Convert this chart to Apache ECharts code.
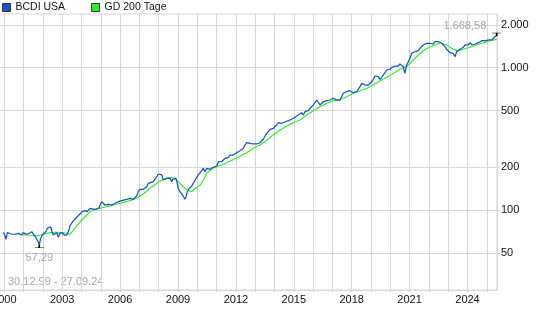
<!DOCTYPE html>
<html><head><meta charset="utf-8">
<script src="https://cdn.jsdelivr.net/npm/echarts@6/dist/echarts.min.js"></script>
<style>html,body{margin:0;padding:0;background:#fff}#c{width:537px;height:323px}</style>
</head><body><div id="c"></div>
<script>
const seriesNames = ['BCDI USA', 'GD 200 Tage'];
const dateRangeText = '30.12.99 - 27.09.24';
const yTickValues = [50, 100, 200, 500, 1000, 2000];
const xTickYears = [2000,2001,2002,2003,2004,2005,2006,2007,2008,2009,2010,2011,2012,2013,2014,2015,2016,2017,2018,2019,2020,2021,2022,2023,2024,2025];
const xLabelYears = [2000,2003,2006,2009,2012,2015,2018,2021,2024];

// [decimal year position, index value]
const bcdiData = [
[1999.95,69.7],[2000.02,67.1],[2000.09,62.6],[2000.16,69.7],[2000.26,70.8],[2000.35,68.2],[2000.55,67.9],[2000.73,69.0],[2000.81,70.8],[2000.90,67.1],[2000.98,69.7],[2001.07,70.5],[2001.16,67.9],[2001.30,69.0],[2001.42,70.8],[2001.50,68.2],[2001.59,66.0],[2001.68,62.6],[2001.76,60.2],[2001.81,57.29],[2001.89,63.6],[2001.97,67.1],[2002.06,69.0],[2002.15,70.8],[2002.23,74.8],[2002.33,76.7],[2002.40,76.7],[2002.46,71.6],[2002.54,67.1],[2002.63,69.0],[2002.72,69.7],[2002.80,64.7],[2002.89,69.0],[2003.01,69.7],[2003.11,67.1],[2003.23,67.1],[2003.32,70.8],[2003.40,77.6],[2003.54,83.2],[2003.66,86.5],[2003.78,90.2],[2003.92,94.2],[2004.04,97.8],[2004.18,99.4],[2004.30,97.8],[2004.44,103.3],[2004.53,105.0],[2004.65,101.6],[2004.79,102.1],[2004.92,104.3],
[2004.96,108.9],[2005.05,114.9],[2005.13,114.9],[2005.22,108.9],[2005.31,107.2],[2005.39,110.2],[2005.48,107.2],[2005.56,108.9],[2005.65,112.0],[2005.74,112.0],[2005.91,114.9],[2005.99,118.1],[2006.08,116.8],[2006.17,119.4],[2006.34,119.4],[2006.51,121.4],[2006.60,118.1],[2006.68,119.4],[2006.77,118.1],[2006.86,126.0],[2006.94,135.0],[2007.03,140.4],[2007.12,138.8],[2007.20,140.4],[2007.29,142.7],[2007.38,146.4],[2007.46,154.6],[2007.55,158.7],[2007.72,158.7],[2007.81,163.1],[2007.90,172.0],[2007.98,179.7],[2008.07,183.5],[2008.16,176.9],[2008.24,163.1],[2008.33,165.0],[2008.41,167.7],[2008.50,165.0],[2008.59,167.7],[2008.67,158.7],[2008.73,165.0],[2008.79,170.4],[2008.90,167.7],[2008.96,154.6],[2009.02,142.7],[2009.10,135.0],[2009.19,131.6],[2009.27,126.0],[2009.36,119.4],[2009.41,123.4],[2009.48,135.0],[2009.59,142.7],[2009.71,148.0],[2009.79,154.6],[2009.88,158.7],[2009.97,170.4],[2010.05,176.9],[2010.14,181.7],
[2010.23,189.6],[2010.31,197.0],[2010.40,186.6],[2010.49,197.0],[2010.57,200.2],[2010.66,193.9],[2010.75,197.0],[2010.83,200.2],[2010.92,193.9],[2011.01,204.5],[2011.09,219.2],[2011.18,225.3],[2011.26,219.2],[2011.35,225.3],[2011.44,231.5],[2011.52,227.8],[2011.61,235.3],[2011.69,244.2],[2011.78,248.2],[2011.87,244.2],[2011.95,244.2],[2012.04,253.4],[2012.12,257.5],[2012.21,261.8],[2012.30,264.7],[2012.38,272.1],[2012.47,287.0],[2012.56,297.8],[2012.64,291.7],[2012.73,295.0],[2012.82,297.8],[2012.90,291.7],[2012.99,297.8],[2013.08,291.7],[2013.16,295.0],[2013.25,297.8],[2013.34,302.8],[2013.42,314.7],[2013.51,331.9],[2013.60,346.7],[2013.68,355.8],[2013.77,369.8],[2013.85,375.8],[2013.94,375.8],[2014.03,385.7],[2014.11,396.5],[2014.20,411.5],[2014.29,418.2],[2014.37,407.5],[2014.46,411.5],[2014.54,416.2],[2014.63,418.2],[2014.72,425.0],[2014.80,429.9],[2014.89,434.7],[2014.97,441.9],[2015.06,449.0],[2015.15,453.4],[2015.23,466.0],[2015.32,478.9],
[2015.41,483.6],[2015.49,466.0],[2015.58,491.4],[2015.67,505.2],[2015.75,499.5],[2015.84,519.2],[2015.93,532.7],[2016.01,547.5],[2016.10,562.7],[2016.19,593.5],[2016.27,577.5],[2016.36,547.5],[2016.45,562.7],[2016.53,577.5],[2016.62,577.5],[2016.71,586.9],[2016.79,593.5],[2016.88,593.5],[2016.96,600.3],[2017.05,610.1],[2017.13,600.3],[2017.22,593.5],[2017.31,586.9],[2017.39,593.5],[2017.48,626.1],[2017.56,661.4],[2017.65,678.7],[2017.74,678.7],[2017.82,689.7],[2017.91,689.7],[2018.00,678.7],[2018.08,667.8],[2018.17,689.7],[2018.26,678.7],[2018.34,689.7],[2018.43,735.9],[2018.52,777.1],[2018.60,784.8],[2018.69,756.2],[2018.78,744.1],[2018.86,756.2],[2018.95,768.5],[2019.04,797.7],[2019.12,829.1],[2019.21,874.5],[2019.30,888.8],[2019.38,864.7],[2019.47,829.1],[2019.55,856.4],[2019.64,888.8],[2019.73,913.6],[2019.81,963.5],[2019.90,990.4],[2019.98,974.5],[2020.07,1006.5],[2020.16,1016.3],[2020.24,1027.8],[2020.33,1044.6],[2020.41,1027.8],[2020.50,1061.6],
[2020.59,1061.6],[2020.67,1016.3],[2020.76,913.6],[2020.85,1044.6],[2020.93,1073.6],[2021.02,1164.1],[2021.11,1261.9],[2021.19,1227.7],[2021.28,1294.9],[2021.37,1274.2],[2021.45,1316.0],[2021.54,1367.9],[2021.63,1390.2],[2021.71,1442.8],[2021.80,1419.7],[2021.89,1482.9],[2021.97,1442.8],[2022.06,1482.9],[2022.15,1482.9],[2022.23,1466.3],[2022.32,1521.9],[2022.40,1482.9],[2022.49,1521.9],[2022.58,1564.2],[2022.66,1482.9],[2022.75,1442.8],[2022.83,1403.9],[2022.92,1346.0],[2023.01,1316.0],[2023.09,1274.2],[2023.18,1294.9],[2023.26,1261.9],[2023.35,1194.1],[2023.44,1294.9],[2023.52,1316.0],[2023.61,1346.0],[2023.70,1367.9],[2023.78,1390.2],[2023.87,1442.8],[2023.96,1482.9],[2024.04,1442.8],[2024.13,1497.4],[2024.22,1442.8],[2024.30,1482.9],[2024.39,1466.3],[2024.48,1442.8],[2024.56,1497.4],[2024.65,1521.9],[2024.74,1546.8],[2024.82,1564.2],[2024.91,1546.8],[2025.00,1564.2],[2025.08,1564.2],[2025.17,1546.8],[2025.25,1564.2],[2025.34,1607.8],[2025.43,1650.0],[2025.51,1668.58]
];

const gd200Data = [
[2000.73,67.9],[2001.16,67.1],[2001.68,66.0],[2002.02,67.9],[2002.37,69.7],[2002.89,70.1],[2003.23,69.0],[2003.40,67.7],[2003.92,82.8],[2004.44,97.8],[2004.70,101.6],[2004.96,103.3],[2005.48,107.2],[2005.99,112.0],[2006.51,116.8],[2006.86,121.4],[2007.20,130.1],[2007.55,142.7],[2007.90,154.6],[2008.24,165.0],[2008.59,170.4],[2008.84,167.7],[2009.02,158.7],[2009.19,150.4],[2009.36,142.7],[2009.53,137.3],[2009.71,135.0],[2009.88,142.7],[2010.14,149.2],[2010.31,163.1],[2010.49,182.6],[2010.83,198.0],[2011.18,206.1],[2011.52,215.7],[2011.87,227.1],[2012.21,240.3],[2012.56,253.4],[2012.90,272.1],[2013.25,287.0],[2013.60,311.1],[2013.94,337.3],[2014.29,365.6],[2014.63,390.2],[2014.97,411.5],[2015.32,429.9],[2015.67,466.0],[2016.01,499.5],[2016.36,532.7],[2016.71,562.7],[2017.05,586.9],[2017.39,600.3],[2017.74,626.1],[2018.08,661.4],[2018.43,689.7],[2018.78,717.0],[2019.12,756.2],[2019.47,810.8],[2019.81,856.4],[2020.16,913.6],[2020.50,974.5],[2020.85,1019.6],[2021.19,1132.4],[2021.54,1257.8],[2021.89,1363.7],[2022.23,1431.3],[2022.58,1490.2],[2022.92,1442.8],[2023.26,1346.0],[2023.52,1316.0],[2023.78,1346.0],[2024.13,1390.2],[2024.48,1442.8],[2024.82,1497.4],[2025.17,1546.8],[2025.51,1581.6]
];

function deNum(v, dec) {
  const s = Number(v).toFixed(dec);
  const parts = s.split('.');
  const i = parts[0].replace(/\B(?=(\d{3})+(?!\d))/g, '.');
  return parts.length > 1 ? i + ',' + parts[1] : i;
}

const FONT = 'Liberation Sans, Arial, sans-serif';
const GRID_C = '#d6d6d6';
const BLUE = '#1a52c2';
const GREEN = '#2cef2c';

const chart = echarts.init(document.getElementById('c'), null, {renderer: 'canvas'});
chart.setOption({
  animation: false,
  backgroundColor: '#fff',
  textStyle: {fontFamily: FONT},
  grid: {left: -1, right: 40, top: 14, bottom: 33, show: true, borderColor: GRID_C, borderWidth: 1, containLabel: false, outerBoundsMode: 'none'},
  legend: {
    left: 2, top: 2, padding: 0, itemWidth: 8, itemHeight: 8, itemGap: 26, icon: 'rect',
    itemStyle: {borderColor: '#333', borderWidth: 1},
    textStyle: {fontSize: 10.5, color: '#111', fontFamily: FONT},
    data: seriesNames
  },
  xAxis: {
    type: 'value', min: 1999.7254, max: 2025.5285,
    axisLine: {show: true, lineStyle: {color: GRID_C}},
    axisTick: {show: true, length: 2, customValues: xTickYears, lineStyle: {color: GRID_C}},
    splitLine: {show: true, lineStyle: {color: GRID_C, width: 1}},
    axisLabel: {customValues: xLabelYears, color: '#111', fontSize: 11, margin: 4, fontFamily: FONT, formatter: v => String(Math.round(v))}
  },
  yAxis: {
    type: 'log', logBase: 10, min: 27.61, max: 2380, position: 'right',
    axisLine: {show: true, lineStyle: {color: GRID_C}},
    axisTick: {show: true, length: 3, customValues: yTickValues, lineStyle: {color: GRID_C}},
    splitLine: {show: true, lineStyle: {color: GRID_C, width: 1}},
    axisLabel: {customValues: yTickValues, color: '#111', fontSize: 11, margin: 4, fontFamily: FONT, formatter: v => deNum(v, 0)}
  },
  graphic: [{type: 'text', left: 8, top: 276, style: {text: dateRangeText, fill: '#a8a8a8', font: '11px ' + FONT}}],
  series: [
    {
      name: seriesNames[0], type: 'line', data: bcdiData, showSymbol: false, symbol: 'none',
      lineStyle: {color: BLUE, width: 1.25}, itemStyle: {color: BLUE}, z: 3,
      markPoint: {
        silent: true,
        data: [
          {type: 'max', symbol: 'path://M0,0L10,0M5,0L5,4', symbolSize: [9, 3], symbolOffset: [0, -1.5],
           itemStyle: {color: 'transparent', borderColor: '#000', borderWidth: 1},
           label: {show: true, position: 'left', distance: 5, offset: [0, -9], color: '#a8a8a8', fontSize: 11, fontFamily: FONT, formatter: p => deNum(p.value, 2)}},
          {type: 'min', symbol: 'path://M5,0L5,4M0,4L10,4', symbolSize: [9, 3], symbolOffset: [0, 1.5],
           itemStyle: {color: 'transparent', borderColor: '#000', borderWidth: 1},
           label: {show: true, position: 'bottom', distance: 4, color: '#a8a8a8', fontSize: 11, fontFamily: FONT, formatter: p => deNum(p.value, 2)}}
        ]
      }
    },
    {
      name: seriesNames[1], type: 'line', data: gd200Data, showSymbol: false, symbol: 'none',
      lineStyle: {color: GREEN, width: 1.2}, itemStyle: {color: GREEN}, z: 2
    }
  ]
});
</script></body></html>
